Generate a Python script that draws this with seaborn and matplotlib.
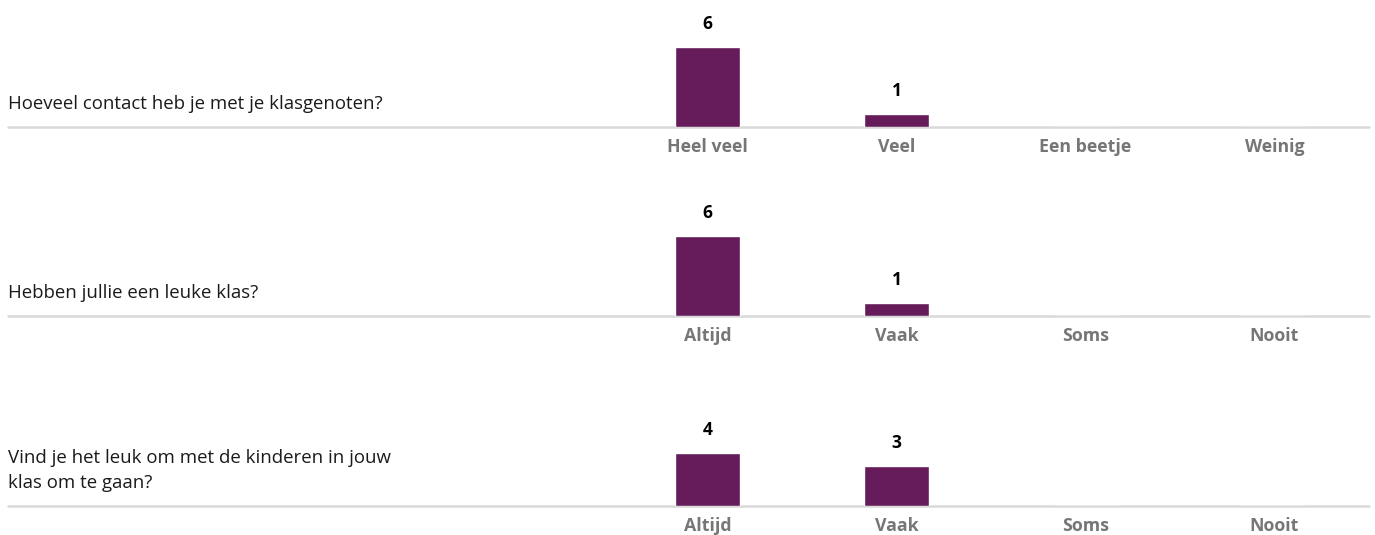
import matplotlib
matplotlib.use("Agg")
import matplotlib.pyplot as plt
from matplotlib.lines import Line2D
import seaborn as sns
import pandas as pd

# Survey questions and answer counts
questions = [
    "Hoeveel contact heb je met je klasgenoten?",
    "Hebben jullie een leuke klas?",
    "Vind je het leuk om met de kinderen in jouw\nklas om te gaan?",
]
contact_answers = ["Heel veel", "Veel", "Een beetje", "Weinig"]
frequency_answers = ["Altijd", "Vaak", "Soms", "Nooit"]

contact_counts = [6, 1, 0, 0]
leuke_klas_counts = [6, 1, 0, 0]
omgaan_counts = [4, 3, 0, 0]

answer_sets = [contact_answers, frequency_answers, frequency_answers]
count_sets = [contact_counts, leuke_klas_counts, omgaan_counts]

sns.set_theme(style="white")
plt.rcParams["font.family"] = ["Open Sans", "DejaVu Sans"]

BAR_COLOR = "#661C5A"
RULE_COLOR = "#D9D9D9"
LABEL_COLOR = "#767676"

W, H = 1375, 535
fig = plt.figure(figsize=(W / 100, H / 100), dpi=100)
fig.patch.set_facecolor("white")

row_baselines = [127, 316, 506]      # pixel rows of each horizontal rule
plot_left, plot_width = 613, 756      # four answer slots of 189 px
axes_height = 120
px_per_unit = 13.3

for question, answers, counts, base in zip(questions, answer_sets, count_sets, row_baselines):
    ax = fig.add_axes([plot_left / W, (H - base) / H, plot_width / W, axes_height / H])
    df = pd.DataFrame({"answer": answers, "count": counts})
    sns.barplot(data=df, x="answer", y="count", order=answers, color=BAR_COLOR,
                width=65 / 189, saturation=1, ax=ax)
    ax.set_xlim(-0.5, len(answers) - 0.5)
    ax.set_ylim(0, axes_height / px_per_unit)
    ax.set_xlabel("")
    ax.set_ylabel("")
    ax.set_yticks([])
    for s in ax.spines.values():
        s.set_visible(False)
    ax.tick_params(axis="x", length=0, pad=8, labelsize=12.8, labelcolor=LABEL_COLOR)
    for lbl in ax.get_xticklabels():
        lbl.set_fontweight("bold")
    ax.patch.set_alpha(0)

    labels = [str(c) if c > 0 else "" for c in counts]
    ax.bar_label(ax.containers[0], labels=labels, padding=10, fontsize=12.5,
                 fontweight="bold", color="black")

    # horizontal rule across question column and answer columns
    yf = (H - base) / H
    fig.add_artist(Line2D([8 / W, 1369 / W], [yf, yf], color=RULE_COLOR, lw=1.8, zorder=0))

    # question text, one line at a time
    lines = question.split("\n")
    for k, line in enumerate(reversed(lines)):
        y_px = base - 18 - 25 * k
        fig.text(8 / W, (H - y_px) / H, line, ha="left", va="baseline",
                 fontsize=13.4, color="#1A1A1A")

fig.savefig("out.png", dpi=100, facecolor="white")
